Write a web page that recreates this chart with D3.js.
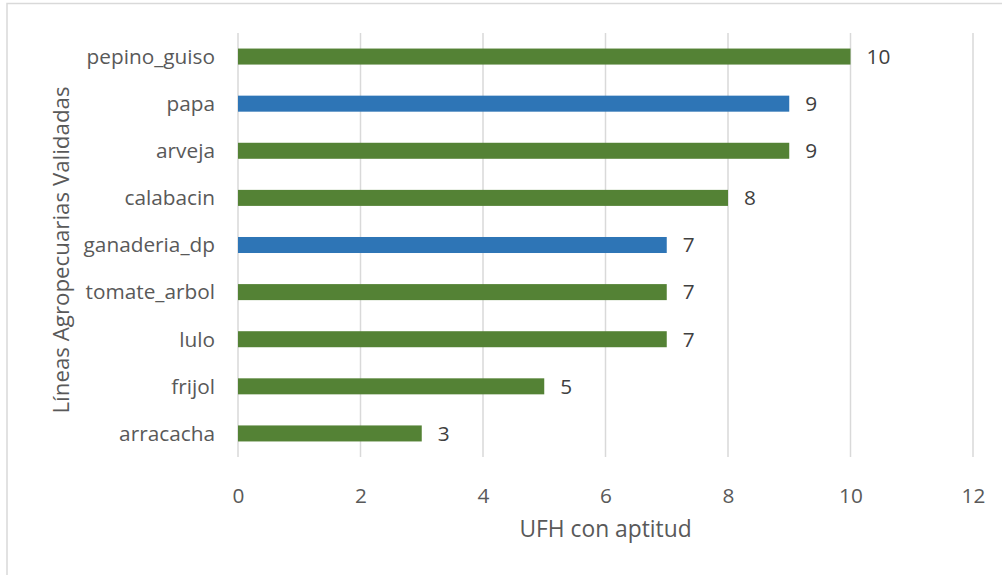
<!DOCTYPE html>
<html>
<head>
<meta charset="utf-8">
<script src="https://cdn.jsdelivr.net/npm/d3@7"></script>
<style>
  html, body { margin: 0; padding: 0; background: #fff; }
  svg { display: block; }
</style>
</head>
<body>
<svg id="chart" width="1002" height="575"></svg>
<script>
// Agricultural lines and number of UFH units with aptitude
const categories = ["pepino_guiso", "papa", "arveja", "calabacin", "ganaderia_dp", "tomate_arbol", "lulo", "frijol", "arracacha"];
const values = [10, 9, 9, 8, 7, 7, 7, 5, 3];
const groups = ["g", "b", "g", "g", "b", "g", "g", "g", "g"];
const xTicks = [0, 2, 4, 6, 8, 10, 12];
const xTitle = "UFH con aptitud";
const yTitle = "Líneas Agropecuarias Validadas";

const colorOf = { g: "#548235", b: "#2E75B6" };
const font = "'Open Sans', sans-serif";
const textColor = "#595959";
const labelSize = 20.8;
const titleSize = 22.8;

const svg = d3.select("#chart");
const W = 1002, H = 575;
const margin = { left: 238, right: 29, top: 33, bottom: 118 };

// chart frame
svg.append("path")
  .attr("d", `M7,${H + 2} L7,3.5 L${W + 2},3.5`)
  .attr("fill", "none")
  .attr("stroke", "#d9d9d9")
  .attr("stroke-width", 1.5);

const x = d3.scaleLinear().domain([0, 12]).range([margin.left, W - margin.right]);
const y = d3.scaleBand().domain(categories).range([margin.top, H - margin.bottom]).paddingInner(0.66).paddingOuter(0.33);

// vertical gridlines
svg.append("g").selectAll("line").data(xTicks).join("line")
  .attr("x1", d => x(d)).attr("x2", d => x(d))
  .attr("y1", margin.top).attr("y2", H - margin.bottom)
  .attr("stroke", "#d9d9d9").attr("stroke-width", 1.5);

// x tick labels
const xAxis = d3.axisBottom(x).tickValues(xTicks).tickSize(0).tickPadding(0);
const gx = svg.append("g").attr("transform", `translate(0,${H - margin.bottom + 46})`).call(xAxis);
gx.select(".domain").remove();
gx.selectAll("text").attr("font-family", font).attr("font-size", labelSize).attr("fill", textColor).attr("dy", 0);

// y category labels
const yAxis = d3.axisLeft(y).tickSize(0).tickPadding(23);
const gy = svg.append("g").attr("transform", `translate(${margin.left},0)`).call(yAxis);
gy.select(".domain").remove();
gy.selectAll("text").attr("font-family", font).attr("font-size", labelSize).attr("fill", textColor).attr("dy", "0.35em");

// bars
const data = categories.map((c, i) => ({ c, v: values[i], g: groups[i] }));
svg.append("g").selectAll("rect").data(data).join("rect")
  .attr("x", x(0))
  .attr("y", d => y(d.c))
  .attr("width", d => x(d.v) - x(0))
  .attr("height", y.bandwidth())
  .attr("fill", d => colorOf[d.g]);

// value labels
svg.append("g").selectAll("text").data(data).join("text")
  .attr("x", d => x(d.v) + 16)
  .attr("y", d => y(d.c) + y.bandwidth() / 2)
  .attr("dy", "0.35em")
  .attr("font-family", font).attr("font-size", labelSize).attr("fill", "#404040")
  .text(d => d.v);

// axis titles
svg.append("text")
  .attr("x", (x(0) + x(12)) / 2)
  .attr("y", 537)
  .attr("text-anchor", "middle")
  .attr("font-family", font).attr("font-size", titleSize).attr("fill", textColor)
  .text(xTitle);

svg.append("text")
  .attr("transform", `translate(69,250) rotate(-90)`)
  .attr("text-anchor", "middle")
  .attr("font-family", font).attr("font-size", titleSize - 0.5).attr("fill", textColor)
  .text(yTitle);
</script>
</body>
</html>
